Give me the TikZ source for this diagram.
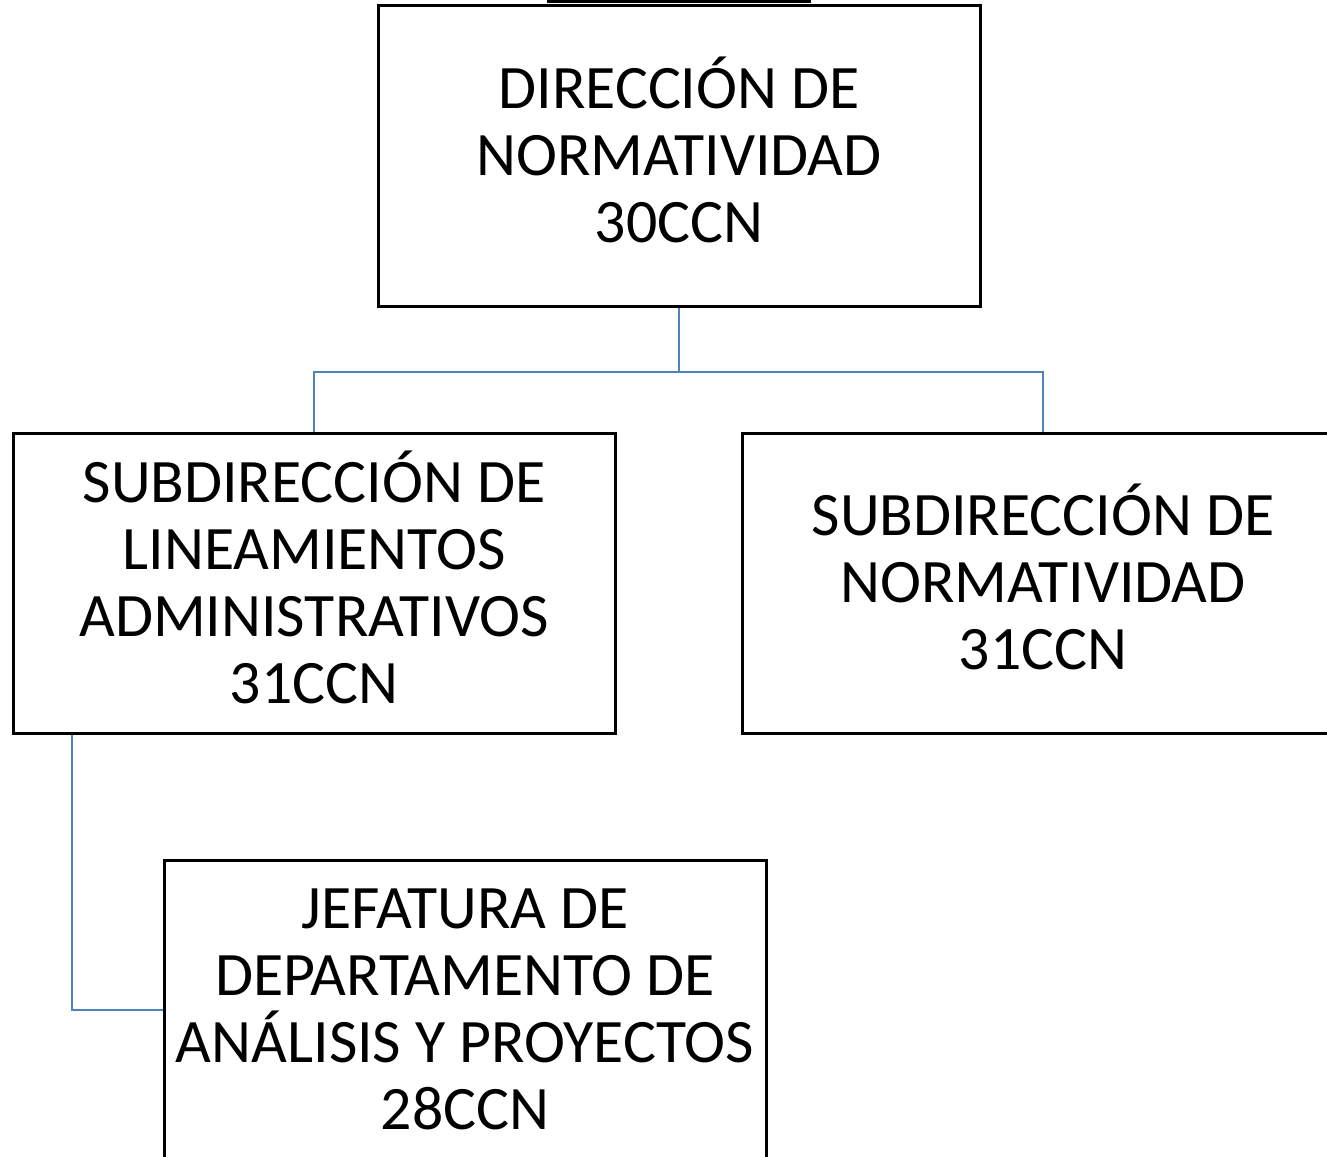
\documentclass[tikz,border=0pt]{standalone}
\usepackage{fontspec}
\setmainfont{Carlito}
\usepackage{tikz}
\definecolor{linkblue}{RGB}{79,129,189}

\begin{document}
\begin{tikzpicture}[x=0.5pt, y=-0.5pt,
		every node/.style={draw, line width=1.5pt, inner sep=0pt, minimum width=301pt, minimum height=150pt, align=center, text depth=6pt, font=\fontsize{30.9}{33.5}\selectfont},
		conn/.style={draw=linkblue, line width=1pt}]
				\useasboundingbox (0,0) rectangle (1327,1156);
				\clip (0,0) rectangle (1327,1156);
				\fill (547,0) rectangle (811,3);
				\node(dir) at (679, 156) {DIRECCIÓN DE\\NORMATIVIDAD\\30CCN};
				\node(sublin) at (314, 583) {SUBDIRECCIÓN DE\\LINEAMIENTOS\\ADMINISTRATIVOS\\31CCN};
				\node(subnor) at (1043, 583) {SUBDIRECCIÓN DE\\NORMATIVIDAD\\31CCN};
				\node[minimum height=155pt](jef) at (465, 1015) {JEFATURA DE\\DEPARTAMENTO DE\\ANÁLISIS Y PROYECTOS\\28CCN};
				\draw[conn] (dir.south) -- ++(0,64) -| (sublin.north);
				\draw[conn] (dir.south) ++(0,64) -| (subnor.north);
				\draw[conn] (sublin.south west) ++(60,0) |- ([yshift=-75.5pt]jef.north west);
		\end{tikzpicture}
\end{document}
